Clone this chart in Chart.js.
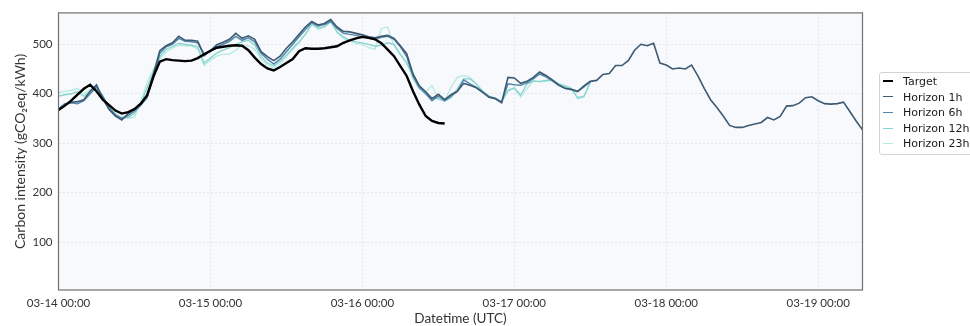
<!DOCTYPE html>
<html>
<head>
<meta charset="utf-8">
<script src="https://cdn.jsdelivr.net/npm/chart.js@4.4.1/dist/chart.umd.min.js"></script>
<style>
  html, body { margin: 0; padding: 0; background: #fff; }
  #wrap { position: relative; width: 970px; height: 326px; overflow: hidden; }
  #legend {
    position: absolute; left: 879px; top: 72px; width: 104px; height: 83px;
    border: 1px solid #d2d2d2; border-radius: 3px; background: rgba(255,255,255,0.85);
    box-sizing: border-box; font-family: "DejaVu Sans", sans-serif; font-size: 11px;
    color: #1a1a1a; padding-top: 1px;
  }
  .item { position: relative; height: 15.5px; line-height: 15.5px; white-space: nowrap; }
  .swatch { position: absolute; left: 3px; width: 10px; }
  .label { position: absolute; left: 23px; top: 0; }
</style>
</head>
<body>
<div id="wrap">
  <canvas id="chart" width="970" height="326"></canvas>
  <div id="legend"></div>
</div>
<script>
// Hourly carbon intensity, starting 03-14 00:00 UTC (gCO2eq/kWh)
const seriesNames = ['Target', 'Horizon 1h', 'Horizon 6h', 'Horizon 12h', 'Horizon 23h'];
const seriesColors = ['#000000', '#3d5a72', '#5288ab', '#86d4d0', '#b5eadf'];
const seriesWidths = [2.4, 1.6, 1.5, 1.3, 1.3];

const target = [
  367, 376, 386, 398, 410, 418, 405, 388, 377, 366,
  360, 363, 369, 380, 397, 435, 465, 470, 468, 467,
  466, 467, 472, 480, 487, 493, 495, 497, 498, 497,
  488, 473, 460, 451, 447, 454, 462, 470, 486, 492,
  491, 491, 492, 494, 496, 503, 508, 512, 515, 513,
  510, 502, 489, 476, 456, 436, 405, 378, 355, 345,
  341, 340
];

const horizon1h = [
  367, 377, 383, 384, 388, 405, 418, 390, 368, 355,
  347, 360, 369, 380, 395, 440, 487, 497, 503, 516,
  508, 508, 506, 477, 487, 499, 504, 510, 522, 512,
  517, 510, 485, 475, 467, 476, 492, 505, 520, 535,
  546, 539, 542, 550, 535, 526, 525, 522, 519, 515,
  513, 516, 518, 512, 497, 481, 440, 416, 404, 390,
  399, 388, 398, 405, 421, 417, 412, 403, 393, 390,
  382, 433, 432, 421, 425, 433, 444, 437, 428, 418,
  411, 409, 405, 416, 425, 427, 439, 441, 457, 457,
  467, 488, 500, 497, 502, 462, 458, 450, 452, 450,
  458, 436, 411, 388, 372, 355, 336, 332, 332, 336,
  339, 342, 352, 347, 354, 375, 376, 381, 392, 394,
  386, 380, 379, 380, 383, 364, 345, 327
];

const horizon6h = [
  370, 380, 382, 380, 386, 400, 414, 395, 372, 357,
  350, 356, 365, 377, 392, 432, 482, 495, 500, 512,
  506, 505, 503, 480, 485, 495, 500, 506, 516, 508,
  513, 505, 482, 470, 460, 470, 485, 500, 515, 530,
  544, 537, 540, 546, 532, 522, 520, 518, 515, 512,
  510, 514, 516, 510, 495, 475, 435, 412, 400, 386,
  395, 386, 395, 405, 428, 420, 413, 404, 394, 391,
  383, 420, 418, 417, 422, 430, 440, 434, 426, 417,
  411, 408, 404, 414, 424
];

const horizon12h = [
  395, 398, 400, 404, 395, 405, 412, 390, 368, 355,
  352, 352, 360, 380, 412, 445, 475, 490, 495, 502,
  500, 498, 495, 462, 472, 482, 488, 493, 500, 505,
  508, 498, 475, 462, 456, 465, 478, 492, 505, 520,
  540, 533, 535, 545, 525, 515, 508, 505, 503, 500,
  496, 498, 503, 500, 480, 462, 438, 415, 402, 392,
  390, 385, 392, 410, 430, 430, 420, 405, 395, 390,
  384, 407, 412, 397, 420, 425, 425, 427, 428, 420,
  415, 410, 392, 395, 423
];

const horizon23h = [
  403, 405, 407, 411, 400, 409, 410, 392, 375, 360,
  351, 351, 352, 385, 423, 450, 470, 485, 492, 498,
  497, 497, 490, 457, 468, 476, 480, 480, 488, 498,
  497, 490, 470, 458, 452, 460, 475, 490, 503, 520,
  543, 530, 535, 550, 523, 512, 507, 502, 500, 493,
  490, 532, 535, 497, 478, 463, 430, 410, 403, 417,
  388, 387, 413, 433, 437, 433, 420, 405, 395, 390,
  383, 405, 411, 393, 410, 427, 424, 425, 427, 420,
  417, 412, 390, 393, 423
];

const xTickHours = [0, 24, 48, 72, 96, 120];
const xTickLabels = ['03-14 00:00', '03-15 00:00', '03-16 00:00', '03-17 00:00', '03-18 00:00', '03-19 00:00'];
const yTicks = [100, 200, 300, 400, 500];

const allSeries = [target, horizon1h, horizon6h, horizon12h, horizon23h];

const datasets = allSeries.map((vals, i) => ({
  label: seriesNames[i],
  data: vals.map((v, h) => ({ x: h, y: v })),
  borderColor: seriesColors[i],
  backgroundColor: seriesColors[i],
  borderWidth: seriesWidths[i],
  pointRadius: 0,
  tension: 0,
  fill: false
}));

// shaded plot area and full frame round it
const plotFrame = {
  id: 'plotFrame',
  beforeDraw(chart) {
    const { ctx, chartArea: a } = chart;
    ctx.save();
    ctx.fillStyle = '#f8f9fd';
    ctx.fillRect(a.left, a.top, a.right - a.left, a.bottom - a.top);
    ctx.restore();
  },
  afterDraw(chart) {
    const { ctx, chartArea: a } = chart;
    ctx.save();
    ctx.strokeStyle = '#707070';
    ctx.lineWidth = 1.2;
    ctx.strokeRect(a.left, a.top, a.right - a.left, a.bottom - a.top);
    ctx.restore();
  }
};

const gridStyle = { color: '#e0e4eb', lineWidth: 1, drawTicks: false };
const dottedBorder = { display: false, dash: [2, 2] };

new Chart(document.getElementById('chart'), {
  type: 'line',
  data: { datasets },
  plugins: [plotFrame],
  options: {
    responsive: false,
    animation: false,
    layout: { padding: { left: 0, top: 10, right: 107.5, bottom: 0 } },
    plugins: { legend: { display: false }, tooltip: { enabled: false } },
    scales: {
      x: {
        type: 'linear',
        min: 0,
        max: 127,
        afterBuildTicks(scale) { scale.ticks = xTickHours.map(v => ({ value: v })); },
        afterFit(scale) { scale.height = 36; },
        ticks: {
          autoSkip: false,
          maxRotation: 0,
          padding: 6,
          color: '#333',
          font: { family: 'Lato', size: 11.5 },
          callback: (v) => xTickLabels[xTickHours.indexOf(v)] ?? ''
        },
        grid: gridStyle,
        border: dottedBorder,
        title: {
          display: true,
          text: 'Datetime (UTC)',
          color: '#333',
          font: { family: 'Lato', size: 13.5, lineHeight: 1.2 },
          padding: { top: 0, bottom: -1 }
        }
      },
      y: {
        min: 3.4,
        max: 563.4,
        afterBuildTicks(scale) { scale.ticks = yTicks.map(v => ({ value: v })); },
        afterFit(scale) { scale.width = 58.5; },
        ticks: {
          padding: 6,
          color: '#333',
          font: { family: 'Lato', size: 11.5 }
        },
        grid: gridStyle,
        border: dottedBorder,
        title: {
          display: true,
          text: 'Carbon intensity (gCO\u2082eq/kWh)',
          color: '#333',
          font: { family: 'Lato', size: 14, lineHeight: 1.2 },
          padding: { top: 11.6, bottom: 0 }
        }
      }
    }
  }
});

// legend entries built from the dataset names and colours
const legend = document.getElementById('legend');
seriesNames.forEach((name, i) => {
  const item = document.createElement('div');
  item.className = 'item';
  const sw = document.createElement('div');
  sw.className = 'swatch';
  sw.style.borderTop = seriesWidths[i] * 1.1 + 'px solid ' + seriesColors[i];
  sw.style.top = (7.75 - seriesWidths[i] * 0.55) + 'px';
  const lb = document.createElement('span');
  lb.className = 'label';
  lb.textContent = name;
  item.appendChild(sw);
  item.appendChild(lb);
  legend.appendChild(item);
});
</script>
</body>
</html>
